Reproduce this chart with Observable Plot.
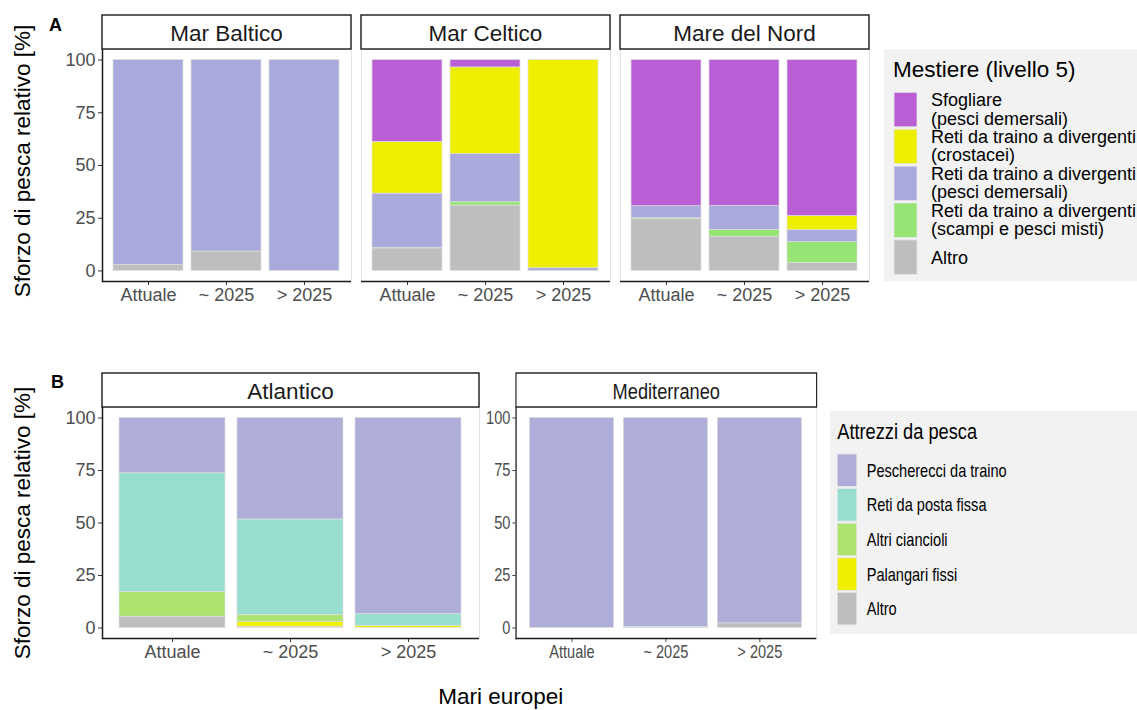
<!DOCTYPE html>
<html><head><meta charset="utf-8">
<script src="https://cdn.jsdelivr.net/npm/d3@7"></script>
<script src="https://cdn.jsdelivr.net/npm/@observablehq/plot@0.6"></script>
<style>
body{margin:0;background:#fff;overflow:hidden;}
#root{position:relative;width:1137px;height:710px;overflow:hidden;font-family:"Liberation Sans",Arial,sans-serif;background:#fff;}
#medBlock{position:absolute;left:480px;top:0;width:900px;height:710px;transform:scale(0.81,1);transform-origin:0 0;}
#overlay{position:absolute;left:0;top:0;pointer-events:none;}
</style>
</head><body>
<div id="root"><div id="medBlock"></div></div>
<script>
// ---------- data ----------
const periods = ["Attuale", "~ 2025", "> 2025"];

const mariA = ["Mar Baltico", "Mar Celtico", "Mare del Nord"];
const mestieri = [
  "Sfogliare (pesci demersali)",
  "Reti da traino a divergenti (crostacei)",
  "Reti da traino a divergenti (pesci demersali)",
  "Reti da traino a divergenti (scampi e pesci misti)",
  "Altro"
];
const mestieriLabels = [
  ["Sfogliare", "(pesci demersali)"],
  ["Reti da traino a divergenti", "(crostacei)"],
  ["Reti da traino a divergenti", "(pesci demersali)"],
  ["Reti da traino a divergenti", "(scampi e pesci misti)"],
  ["Altro"]
];
const coloriA = ["#BA5ED6", "#EEEE00", "#A9A9DB", "#96E474", "#BEBEBE"];
// per period (Attuale, ~2025, >2025), values in mestieri order
const marBaltico = [[0, 0, 97.2, 0, 2.8], [0, 0, 90.8, 0, 9.2], [0, 0, 100, 0, 0]];
const marCeltico = [[38.8, 24.5, 25.7, 0.3, 10.7], [3.5, 41.0, 22.9, 1.6, 31.0], [0, 98.7, 1.3, 0, 0]];
const mareNord   = [[69.3, 0, 5.7, 0.4, 24.6], [69.2, 0, 11.4, 3.2, 16.2], [73.9, 6.7, 5.7, 9.9, 3.8]];

const mariB = ["Atlantico", "Mediterraneo"];
const attrezzi = ["Pescherecci da traino", "Reti da posta fissa", "Altri ciancioli", "Palangari fissi", "Altro"];
const coloriB = ["#AEAED9", "#98DECF", "#ADE36F", "#EFEF00", "#BEBEBE"];
const atlantico    = [[26.3, 56.5, 11.8, 0, 5.4], [48.3, 45.5, 3.2, 2.4, 0.6], [93.3, 5.7, 0, 1.0, 0]];
const mediterraneo = [[100, 0, 0, 0, 0], [99.5, 0.5, 0, 0, 0], [97.8, 0, 0, 0, 2.2]];

const yTicks = [0, 25, 50, 75, 100];

// ---------- helpers ----------
const FONT = '"Liberation Sans", Arial, sans-serif';
function rowsFrom(values, cats) {
  const rows = [];
  periods.forEach((p, i) => {
    for (let k = cats.length - 1; k >= 0; k--) rows.push({period: p, cat: cats[k], value: values[i][k]});
  });
  return rows.filter(d => d.value > 0);
}

function facet(parent, {left, top, w, h, values, cats, colors, yAxis}) {
  const ml = 50, mr = 1, mt = 1, mb = 40;
  const marks = [
    Plot.frame({stroke: "#e3e3e3", strokeWidth: 1}),
    Plot.barY(rowsFrom(values, cats), {
      x: "period", y: "value", fill: "cat",
      order: [...cats].reverse(),
      stroke: "#dedede", strokeWidth: 0.7
    }),
    Plot.axisX({tickSize: 4, tickPadding: 3, fontSize: 18, stroke: "#333", label: null}),
    Plot.ruleY([-5], {stroke: "#1a1a1a", strokeWidth: 1.5})
  ];
  if (yAxis) {
    marks.push(
      Plot.axisY({ticks: yTicks, tickSize: 4, tickPadding: 3, fontSize: 18, stroke: "#333", label: null}),
      Plot.frame({anchor: "left", stroke: "#1a1a1a", strokeWidth: 1.5})
    );
  }
  const svg = Plot.plot({
    width: w + ml + mr, height: h + mt + mb,
    marginLeft: ml, marginRight: mr, marginTop: mt, marginBottom: mb,
    x: {domain: periods, paddingInner: 0.1, paddingOuter: 0.142},
    y: yAxis ? {domain: [-5, 105]} : {domain: [-5, 105], axis: null},
    color: {domain: cats, range: colors},
    style: {background: "transparent", fontFamily: FONT, color: "#4d4d4d", overflow: "visible"},
    marks
  });
  svg.style.position = "absolute";
  svg.style.left = (left - ml) + "px";
  svg.style.top = (top - mt) + "px";
  parent.appendChild(svg);
}

const root = document.getElementById("root");
const medBlock = document.getElementById("medBlock");

// ---------- panel A ----------
const aLefts = [102, 361, 620], aW = 249, aTop = 49, aH = 232;
[marBaltico, marCeltico, mareNord].forEach((vals, i) => {
  facet(root, {left: aLefts[i], top: aTop, w: aW, h: aH, values: vals, cats: mestieri, colors: coloriA, yAxis: i === 0});
});

// ---------- panel B ----------
const bTop = 407, bH = 231;
facet(root, {left: 102, top: bTop, w: 377, h: bH, values: atlantico, cats: attrezzi, colors: coloriB, yAxis: true});
const S = 0.81, medLeft = 44.4, medW = 371.2;
facet(medBlock, {left: medLeft, top: bTop, w: medW, h: bH, values: mediterraneo, cats: attrezzi, colors: coloriB, yAxis: true});

// ---------- overlay text / strips / legends ----------
const ov = d3.select(root).append("svg").attr("id", "overlay")
  .attr("width", 1137).attr("height", 710)
  .style("font-family", FONT);

function strip(g, x, y, w, h, label, baseline) {
  g.append("rect").attr("x", x).attr("y", y).attr("width", w).attr("height", h)
    .attr("fill", "#fff").attr("stroke", "#1a1a1a").attr("stroke-width", 1.4);
  g.append("text").attr("x", x + w / 2).attr("y", baseline).attr("text-anchor", "middle")
    .attr("font-size", 22.5).attr("fill", "#1a1a1a").text(label);
}
mariA.forEach((m, i) => strip(ov, aLefts[i], 15, aW, 34, m, 40.7));
strip(ov, 102, 373, 377, 34, mariB[0], 399.3);

ov.append("text").attr("x", 49).attr("y", 30.5).attr("font-size", 18).attr("font-weight", "bold").text("A");
ov.append("text").attr("x", 51).attr("y", 387.5).attr("font-size", 18).attr("font-weight", "bold").text("B");

const yTitle = "Sforzo di pesca relativo [%]";
ov.append("text").attr("transform", "translate(29.5,161) rotate(-90)").attr("text-anchor", "middle")
  .attr("font-size", 22.5).attr("fill", "#000").text(yTitle);
ov.append("text").attr("transform", "translate(30,523) rotate(-90)").attr("text-anchor", "middle")
  .attr("font-size", 22.5).attr("fill", "#000").text(yTitle);
ov.append("text").attr("x", 438.3).attr("y", 704).attr("font-size", 22.5).attr("fill", "#000").text("Mari europei");

// legend A
const lgA = ov.append("g");
lgA.append("rect").attr("x", 884).attr("y", 49).attr("width", 300).attr("height", 232).attr("fill", "#f2f2f2");
lgA.append("text").attr("x", 893).attr("y", 76.7).attr("font-size", 22.5).attr("fill", "#000").text("Mestiere (livello 5)");
mestieri.forEach((m, i) => {
  const y0 = 92.3 + i * 36.9, hk = 34.5, c = y0 + hk / 2;
  lgA.append("rect").attr("x", 894).attr("y", y0).attr("width", 23).attr("height", hk)
    .attr("fill", coloriA[i]).attr("stroke", "#e6e6e6").attr("stroke-width", 0.8);
  const lines = mestieriLabels[i];
  const t = lgA.append("text").attr("font-size", 18).attr("fill", "#000");
  if (lines.length === 2) {
    t.append("tspan").attr("x", 931).attr("y", c - 3.5).text(lines[0]);
    t.append("tspan").attr("x", 931).attr("y", c + 15).text(lines[1]);
  } else {
    t.append("tspan").attr("x", 931).attr("y", c + 6.5).text(lines[0]);
  }
});

// Mediterraneo block (horizontally condensed)
const gm = ov.append("g").attr("transform", `translate(480,0) scale(${S},1)`);
strip(gm, medLeft, 373, medW, 34, mariB[1], 399.3);
gm.append("rect").attr("x", 432.1).attr("y", 411).attr("width", 400).attr("height", 223).attr("fill", "#f2f2f2");
gm.append("text").attr("x", 441.1).attr("y", 439.3).attr("font-size", 22.5).attr("fill", "#000").text("Attrezzi da pesca");
attrezzi.forEach((a, i) => {
  const y0 = 454 + i * 34.6, hk = 32.5, c = y0 + hk / 2;
  gm.append("rect").attr("x", 441.1).attr("y", y0).attr("width", 24).attr("height", hk)
    .attr("fill", coloriB[i]).attr("stroke", "#e6e6e6").attr("stroke-width", 0.8);
  gm.append("text").attr("x", 477.4).attr("y", c + 6.5).attr("font-size", 18).attr("fill", "#000").text(a);
});
</script>
</body></html>
